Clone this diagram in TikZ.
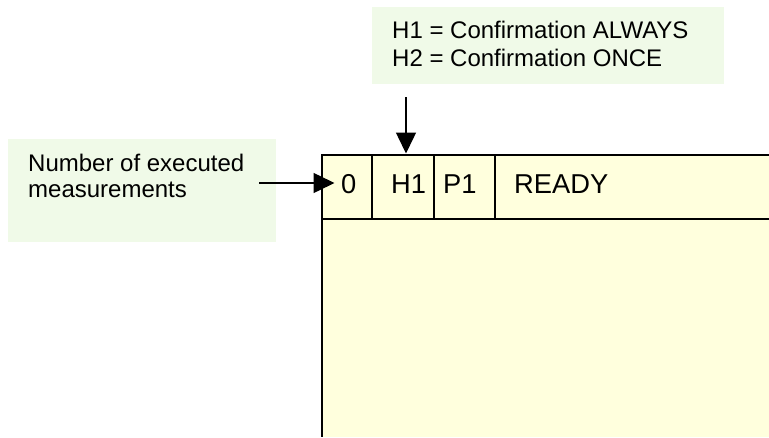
\documentclass[tikz,border=0pt]{standalone}
\usepackage{fontspec}
\setmainfont{Liberation Sans}
\usetikzlibrary{arrows.meta}
\definecolor{panel}{RGB}{255,255,221}
\definecolor{note}{RGB}{240,250,232}
\begin{document}
\begin{tikzpicture}[x=1pt,y=-1pt,
  notebox/.style={fill=note,draw=none,anchor=north west,inner sep=0pt},
  notetext/.style={anchor=base west,inner sep=0pt,font=\fontsize{24}{28}\selectfont},
  celltext/.style={anchor=base west,inner sep=0pt,font=\fontsize{27.3}{30}\selectfont},
  arr/.style={line width=1.5pt,-{Triangle[length=21pt,width=20pt]}},
  rule/.style={line width=1.5pt}]
\useasboundingbox (0,0) rectangle (769,437);
% notes
\node[notebox,minimum width=352pt,minimum height=77pt] (topnote) at (372,7) {};
\node[notebox,minimum width=268pt,minimum height=103pt] (leftnote) at (8,139) {};
\node[notetext] (t1) at (392,38.5) {H1 = Confirmation ALWAYS};
\node[notetext] (t2) at (392,66.5) {H2 = Confirmation ONCE};
\node[notetext] (l1) at (28,171.5) {Number of executed};
\node[notetext] (l2) at (28,197.5) {measurements};
% panel
\fill[panel] (322,155) rectangle (769,437);
\coordinate (ptl) at (322,155);
\coordinate (ptr) at (769,155);
\coordinate (pbl) at (322,437);
\coordinate (hl) at (322,219);
\coordinate (hr) at (769,219);
\draw[rule] (ptr) -- (ptl) -- (pbl);
\draw[rule] (hl) -- (hr);
\coordinate (d1t) at (372,155); \coordinate (d1b) at (372,219);
\coordinate (d2t) at (434,155); \coordinate (d2b) at (434,219);
\coordinate (d3t) at (495,155); \coordinate (d3b) at (495,219);
\draw[rule] (d1t) -- (d1b);
\draw[rule] (d2t) -- (d2b);
\draw[rule] (d3t) -- (d3b);
\node[celltext] (c0) at (341,193.3) {0};
\node[celltext] (c1) at (391,193.3) {H1};
\node[celltext] (c2) at (443,193.3) {P1};
\node[celltext] (c3) at (514,193.3) {READY};
% arrows
\coordinate (la) at (259,183);
\coordinate (lb) at (334.5,183);
\draw[arr] (la) -- (lb);
\coordinate (ta) at (406,97);
\coordinate (tb) at (406,153.5);
\draw[arr] (ta) -- (tb);
\end{tikzpicture}
\end{document}
